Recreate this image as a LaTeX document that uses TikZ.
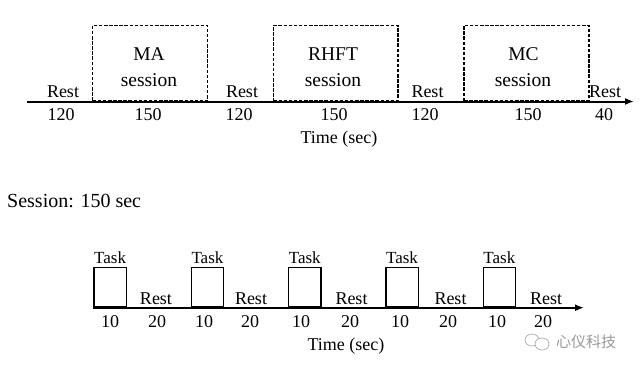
\documentclass[tikz,border=0pt]{standalone}
\usepackage{fontspec}
\setmainfont{Liberation Serif}
\newfontfamily\cjk{Noto Sans CJK SC}
\usetikzlibrary{arrows.meta}
\tikzset{
  sessbox/.style={draw, dash pattern=on 3.5pt off 1.6pt, line width=1.4pt, inner sep=0pt, anchor=south west, minimum height=75.5pt},
  taskbox/.style={draw, line width=1.3pt, inner sep=0pt, anchor=south west, minimum width=32.4pt, minimum height=39.4pt},
  lbl/.style={anchor=base, inner sep=0pt, font=\fontsize{18}{20}\selectfont},
  slbl/.style={anchor=base, inner sep=0pt, font=\fontsize{19.5}{22}\selectfont},
  tlbl/.style={anchor=base, inner sep=0pt, font=\fontsize{17}{20}\selectfont},
  axis/.style={line width=2pt, -{Latex[length=9pt,width=7pt]}},
  axis2/.style={line width=1.6pt, -{Latex[length=9pt,width=7pt]}},
}
\begin{document}
\begin{tikzpicture}[x=1pt,y=-1pt]
\useasboundingbox (0,0) rectangle (641,370);
% ---------- top timeline ----------
\node[sessbox, minimum width=115pt] (ma) at (92,101.5) {};
\node[sessbox, minimum width=124.6pt] (rhft) at (272.7,101.5) {};
\node[sessbox, minimum width=125pt] (mc) at (463.3,101.5) {};
\coordinate (a0) at (27,101.5);
\coordinate (a1) at (634,101.5);
\draw[axis] (a0) -- (a1);
\node[slbl] (maA) at (149,60) {MA};
\node[slbl] (maB) at (149,86) {session};
\node[slbl] (rhA) at (333,60) {RHFT};
\node[slbl] (rhB) at (333,86) {session};
\node[slbl] (mcA) at (523.5,60) {MC};
\node[slbl] (mcB) at (523,86) {session};
\node[lbl] (r1) at (63,97) {Rest};
\node[lbl] (r2) at (242,97) {Rest};
\node[lbl] (r3) at (427.5,97) {Rest};
\node[lbl] (r4) at (605,97) {Rest};
\node[lbl] (n1) at (61,120) {120};
\node[lbl] (n2) at (148,120) {150};
\node[lbl] (n3) at (239,120) {120};
\node[lbl] (n4) at (334,120) {150};
\node[lbl] (n5) at (425,120) {120};
\node[lbl] (n6) at (528,120) {150};
\node[lbl] (n7) at (604,120) {40};
\node[lbl] (t1) at (339,143) {Time (sec)};
% ---------- session label ----------
\node[anchor=base west, inner sep=0pt, font=\fontsize{20}{22}\selectfont] (sl) at (7,207) {Session: 150 sec};
% ---------- bottom timeline ----------
\foreach \i/\x in {1/93.3,2/190.6,3/287.9,4/385.2,5/482.5}{
  \node[taskbox] (tb\i) at (\x,307.7) {};
  \node[tlbl] (tk\i) at ([yshift=3.3pt]tb\i.north) {Task};
}
\coordinate (b0) at (93.3,307.7);
\coordinate (b1) at (584,307.7);
\draw[axis2] (b0) -- (b1);
\foreach \i/\x in {1/156,2/251,3/351.5,4/450.5,5/546}{
  \node[lbl] (br\i) at (\x,304) {Rest};
}
\foreach \i/\x/\v in {1/110/10,2/157/20,3/204/10,4/250/20,5/301/10,6/350/20,7/400/10,8/448/20,9/497/10,10/543/20}{
  \node[lbl] (bn\i) at (\x,327) {\v};
}
\node[lbl] (t2) at (346,350) {Time (sec)};
% ---------- watermark ----------
\draw[gray!60, line width=0.8pt] (532,340) ellipse [x radius=7pt, y radius=6pt];
\draw[gray!60, line width=0.8pt, fill=white] (542,344) ellipse [x radius=7pt, y radius=6pt];
\node[anchor=west, inner sep=0pt, text=gray!80, font=\cjk\fontsize{15}{17}\selectfont] (wm) at (556,342) {心仪科技};
\end{tikzpicture}
\end{document}
